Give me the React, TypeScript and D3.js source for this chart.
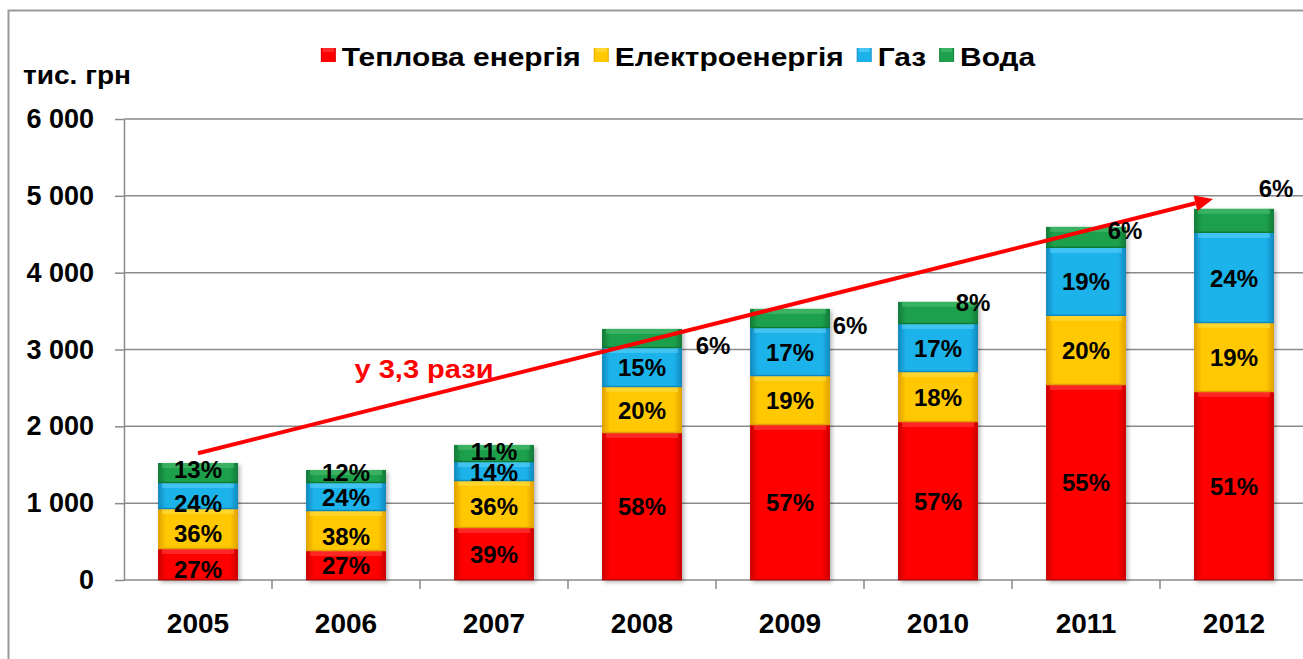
import * as d3 from "d3";
import { useEffect, useRef } from "react";

// values in тис. грн
const years = ["2005", "2006", "2007", "2008", "2009", "2010", "2011", "2012"];
const seriesNames = ["Теплова енергія", "Електроенергія", "Газ", "Вода"];
const heat = [404, 378, 677, 1914, 2018, 2057, 2539, 2448];
const electricity = [520, 520, 612, 599, 638, 651, 899, 898];
const gas = [339, 365, 247, 508, 625, 625, 885, 1172];
const water = [260, 169, 222, 247, 248, 287, 273, 313];

// share labels printed on the segments
const heatPct = ["27%", "27%", "39%", "58%", "57%", "57%", "55%", "51%"];
const electricityPct = ["36%", "38%", "36%", "20%", "19%", "18%", "20%", "19%"];
const gasPct = ["24%", "24%", "14%", "15%", "17%", "17%", "19%", "24%"];
const waterPct = ["13%", "12%", "11%", "6%", "6%", "8%", "6%", "6%"];

const yTicks = [0, 1000, 2000, 3000, 4000, 5000, 6000];
const unitLabel = "тис. грн";
const growthLabel = "у 3,3 рази";
const growthFrom = { year: "2005", value: 1650 };
const growthTo = { year: "2012", value: 4960 };

const palette = [
  { base: "#ff0000", edge: "#c80000", top: "#ff4848" },
  { base: "#ffc800", edge: "#e0a000", top: "#ffe050" },
  { base: "#1eb2ea", edge: "#1088c0", top: "#60d4fa" },
  { base: "#1fa04c", edge: "#0f7a36", top: "#50c074" },
];

// label nudges [dx, dy] per series; water labels sit beside the thin top segment
const labelShift: [number, number][][] = [
  [[0, 5], [0, 0], [0, 0], [0, 0], [0, 0], [0, 0], [0, 0], [0, 0]],
  [[0, 4], [0, 5], [0, 2], [0, 0], [0, 0], [0, 0], [0, 0], [0, 0]],
  [[0, 7], [0, 0], [0, 1], [0, 0], [0, 0], [0, 0], [0, 0], [0, 0]],
  [[0, -4], [0, -4], [0, -2], [71, 7], [60, 7], [35, -11], [39, -7], [42, -32]],
];

const FONT = "'Liberation Sans', Arial, sans-serif";

export default function App() {
  const ref = useRef<SVGSVGElement>(null);

  useEffect(() => {
    if (!ref.current) return;
    const width = 1303;
    const height = 659;
    const marginLeft = 124;
    const plotRight = 1308;
    const marginTop = 119;
    const plotBottom = 580;

    const svg = d3.select(ref.current);
    svg.selectAll("*").remove();
    svg.attr("width", width).attr("height", height).attr("viewBox", [0, 0, width, height]);

    const defs = svg.append("defs");
    palette.forEach((c, i) => {
      const g = defs
        .append("linearGradient")
        .attr("id", `side-${i}`)
        .attr("x1", "0")
        .attr("x2", "1")
        .attr("y1", "0")
        .attr("y2", "0");
      g.append("stop").attr("offset", "0%").attr("stop-color", c.edge);
      g.append("stop").attr("offset", "10%").attr("stop-color", c.base);
      g.append("stop").attr("offset", "90%").attr("stop-color", c.base);
      g.append("stop").attr("offset", "100%").attr("stop-color", c.edge);
    });
    defs
      .append("filter")
      .attr("id", "bar-shadow")
      .attr("x", "-20%")
      .attr("y", "-20%")
      .attr("width", "140%")
      .attr("height", "140%")
      .append("feDropShadow")
      .attr("dx", 2)
      .attr("dy", 2)
      .attr("stdDeviation", 2)
      .attr("flood-color", "#000")
      .attr("flood-opacity", 0.3);

    // outer frame
    svg
      .append("path")
      .attr("d", `M8.5,${height} V10.5 H${width}`)
      .attr("fill", "none")
      .attr("stroke", "#9a9a9a")
      .attr("stroke-width", 2);

    const x = d3
      .scaleBand()
      .domain(years)
      .range([marginLeft, plotRight])
      .paddingInner(0.46)
      .paddingOuter(0.23);

    const y = d3.scaleLinear().domain([0, 6000]).range([plotBottom, marginTop]);

    // gridlines
    svg
      .append("g")
      .selectAll("line")
      .data(yTicks.slice(1))
      .join("line")
      .attr("x1", marginLeft)
      .attr("x2", width)
      .attr("y1", (d) => y(d))
      .attr("y2", (d) => y(d))
      .attr("stroke", "#8a8a8a")
      .attr("stroke-width", 1.5);

    const fmt = d3.formatLocale({
      decimal: ",",
      thousands: " ",
      grouping: [3],
      currency: ["", ""],
    }).format(",d");

    const yAxis = svg
      .append("g")
      .attr("transform", `translate(${marginLeft},0)`)
      .call(
        d3
          .axisLeft(y)
          .tickValues(yTicks)
          .tickSize(9)
          .tickPadding(21)
          .tickSizeOuter(0)
          .tickFormat((d) => fmt(d as number)),
      );
    yAxis.select(".domain").attr("stroke", "#8a8a8a").attr("stroke-width", 1.5);
    yAxis.selectAll(".tick line").attr("stroke", "#8a8a8a").attr("stroke-width", 1.5);
    yAxis
      .selectAll(".tick text")
      .attr("fill", "#000")
      .attr("font-family", FONT)
      .attr("font-weight", "bold")
      .attr("font-size", 27);

    svg
      .append("text")
      .attr("transform", "translate(23,84) scale(1.08,1)")
      .attr("font-family", FONT)
      .attr("font-weight", "bold")
      .attr("font-size", 26)
      .attr("fill", "#000")
      .text(unitLabel);

    // x axis: baseline, boundary ticks, year labels
    svg
      .append("line")
      .attr("x1", marginLeft)
      .attr("x2", width)
      .attr("y1", plotBottom)
      .attr("y2", plotBottom)
      .attr("stroke", "#8a8a8a")
      .attr("stroke-width", 1.5);
    svg
      .append("g")
      .selectAll("line")
      .data(years.slice(1))
      .join("line")
      .attr("x1", (d) => (x(d) as number) - (x.step() * x.paddingInner()) / 2)
      .attr("x2", (d) => (x(d) as number) - (x.step() * x.paddingInner()) / 2)
      .attr("y1", plotBottom)
      .attr("y2", plotBottom + 9)
      .attr("stroke", "#8a8a8a")
      .attr("stroke-width", 1.5);

    const xAxis = svg
      .append("g")
      .attr("transform", `translate(0,${plotBottom})`)
      .call(d3.axisBottom(x).tickSize(0).tickPadding(33));
    xAxis.select(".domain").remove();
    xAxis
      .selectAll(".tick text")
      .attr("fill", "#000")
      .attr("font-family", FONT)
      .attr("font-weight", "bold")
      .attr("font-size", 28);

    // stacked bars
    const rows = years.map((year, i) => ({
      year,
      s0: heat[i],
      s1: electricity[i],
      s2: gas[i],
      s3: water[i],
    }));
    const stack = d3.stack<(typeof rows)[number]>().keys(["s0", "s1", "s2", "s3"])(rows);
    const labels = [heatPct, electricityPct, gasPct, waterPct];

    const bars = svg.append("g").attr("filter", "url(#bar-shadow)");
    stack.forEach((layer, si) => {
      const g = bars.append("g");
      g.selectAll("rect.seg")
        .data(layer)
        .join("rect")
        .attr("class", "seg")
        .attr("x", (d) => x(d.data.year) as number)
        .attr("width", x.bandwidth())
        .attr("y", (d) => y(d[1]))
        .attr("height", (d) => y(d[0]) - y(d[1]))
        .attr("fill", `url(#side-${si})`);
      g.selectAll("rect.top")
        .data(layer)
        .join("rect")
        .attr("class", "top")
        .attr("x", (d) => (x(d.data.year) as number) + 4)
        .attr("width", x.bandwidth() - 8)
        .attr("y", (d) => y(d[1]))
        .attr("height", (d) => Math.min(5, y(d[0]) - y(d[1])))
        .attr("fill", palette[si].top)
        .attr("opacity", 0.55);
      g.selectAll("line.sep")
        .data(layer)
        .join("line")
        .attr("class", "sep")
        .attr("x1", (d) => x(d.data.year) as number)
        .attr("x2", (d) => (x(d.data.year) as number) + x.bandwidth())
        .attr("y1", (d) => y(d[0]) - 0.5)
        .attr("y2", (d) => y(d[0]) - 0.5)
        .attr("stroke", palette[si].edge)
        .attr("stroke-width", 1.5);
    });

    // growth arrow
    const ax0 = (x(growthFrom.year) as number) + x.bandwidth() / 2;
    const ay0 = y(growthFrom.value);
    const ax1 = (x(growthTo.year) as number) + x.bandwidth() / 2 - 21;
    const ay1 = y(growthTo.value);
    const ang = Math.atan2(ay1 - ay0, ax1 - ax0);
    const headLen = 18;
    const headHalf = 8;
    const bx = ax1 - headLen * Math.cos(ang);
    const by = ay1 - headLen * Math.sin(ang);
    svg
      .append("line")
      .attr("x1", ax0)
      .attr("y1", ay0)
      .attr("x2", bx)
      .attr("y2", by)
      .attr("stroke", "#ff0000")
      .attr("stroke-width", 4);
    svg
      .append("path")
      .attr(
        "d",
        d3.line()([
          [ax1, ay1],
          [bx - headHalf * Math.sin(ang), by + headHalf * Math.cos(ang)],
          [bx + headHalf * Math.sin(ang), by - headHalf * Math.cos(ang)],
        ]) + "Z",
      )
      .attr("fill", "#ff0000");

    svg
      .append("text")
      .attr("transform", "translate(424,378) scale(1.16,1)")
      .attr("text-anchor", "middle")
      .attr("font-family", FONT)
      .attr("font-weight", "bold")
      .attr("font-size", 25)
      .attr("fill", "#ff0000")
      .text(growthLabel);

    // percent labels
    stack.forEach((layer, si) => {
      svg
        .append("g")
        .selectAll("text")
        .data(layer)
        .join("text")
        .attr("x", (d, i) => (x(d.data.year) as number) + x.bandwidth() / 2 + labelShift[si][i][0])
        .attr("y", (d, i) => (y(d[0]) + y(d[1])) / 2 + labelShift[si][i][1])
        .attr("dy", "0.36em")
        .attr("text-anchor", "middle")
        .attr("font-family", FONT)
        .attr("font-weight", "bold")
        .attr("font-size", 24)
        .attr("fill", "#000")
        .text((_, i) => labels[si][i]);
    });

    // legend, laid out from measured text widths and centred over the plot
    const stretch = 1.15;
    const legend = svg.append("g");
    let cursor = 0;
    seriesNames.forEach((name, i) => {
      const item = legend.append("g").attr("transform", `translate(${cursor},0)`);
      item
        .append("rect")
        .attr("x", 0)
        .attr("y", 48)
        .attr("width", 15)
        .attr("height", 14)
        .attr("fill", `url(#side-${i})`);
      item
        .append("rect")
        .attr("x", 2)
        .attr("y", 48)
        .attr("width", 11)
        .attr("height", 4)
        .attr("fill", palette[i].top)
        .attr("opacity", 0.6);
      const t = item
        .append("text")
        .attr("transform", `translate(21,66) scale(${stretch},1)`)
        .attr("font-family", FONT)
        .attr("font-weight", "bold")
        .attr("font-size", 26)
        .attr("fill", "#000")
        .text(name);
      const w = (t.node() as SVGTextElement).getComputedTextLength() * stretch;
      cursor += 21 + w + 13;
    });
    const legendWidth = cursor - 13;
    legend.attr("transform", `translate(${678 - legendWidth / 2},0)`);
  }, []);

  return (
    <svg
      ref={ref}
      style={{ position: "absolute", left: 0, top: 0, background: "#fff" }}
    />
  );
}
